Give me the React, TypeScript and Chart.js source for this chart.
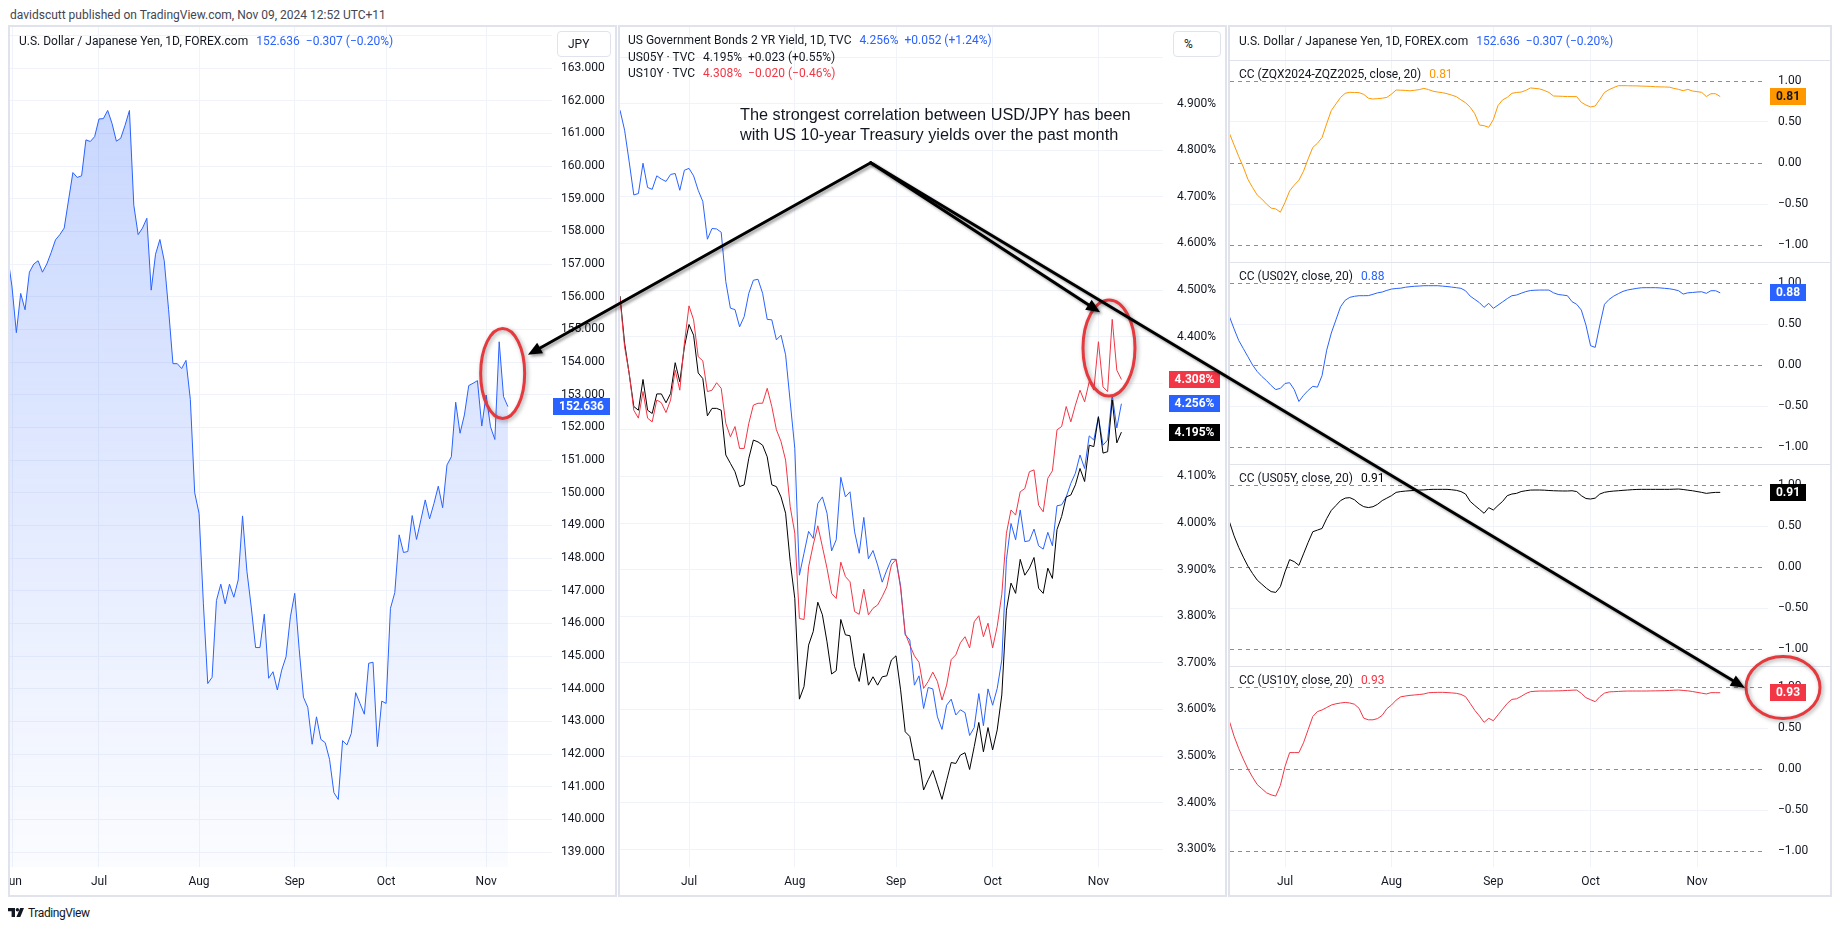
import React, { useEffect, useRef } from 'react';
import { Chart, registerables } from 'chart.js';

Chart.register(...registerables);

/* ---------------- data (bar index 0 = Mon 3 Jun 2024, daily bars) ---------------- */
const MONTH_LABELS = ['Jun', 'Jul', 'Aug', 'Sep', 'Oct', 'Nov'];
const MONTH_START_BAR = [0, 20, 43, 65, 86, 109];

const USDJPY_FIRST_BAR = -1;
const USDJPY = [
  157.26, 156.3, 154.9, 156.1, 155.6, 156.75, 157.0, 157.1, 156.75, 157.0,
  157.35, 157.74, 157.9, 158.1, 158.96, 159.8, 159.65, 159.7, 160.8, 160.75,
  160.9, 161.44, 161.45, 161.7, 161.3, 160.76, 160.85, 161.25, 161.7, 158.8,
  157.9, 158.1, 158.4, 156.2, 157.3, 157.75, 157.1, 155.6, 153.95, 153.95,
  153.8, 154.05, 152.85, 150.0, 149.37, 146.6, 144.16, 144.35, 146.7, 147.2,
  146.6, 147.2, 146.8, 147.33, 149.29, 147.6, 146.5, 145.26, 145.26, 146.28,
  144.32, 144.52, 143.96, 144.57, 144.98, 146.2, 146.92, 145.24, 143.74, 143.43,
  142.3, 143.14, 142.45, 142.35, 141.84, 140.82, 140.61, 142.41, 142.28, 142.63,
  143.88, 143.55, 143.22, 144.78, 144.81, 142.23, 143.62, 143.55, 146.46, 146.94,
  148.71, 148.17, 148.2, 149.3, 148.57, 149.17, 149.78, 149.2, 149.67, 150.2,
  149.54, 150.85, 151.1, 152.77, 151.82, 152.38, 153.28, 153.35, 153.43, 152.04,
  152.99, 152.02, 151.63, 154.62, 152.943, 152.636,
];

const YIELD_FIRST_BAR = 5;
const US02Y = [
  4.886, 4.843, 4.775, 4.704, 4.707, 4.772, 4.72, 4.716, 4.745, 4.738,
  4.733, 4.748, 4.75, 4.714, 4.757, 4.761, 4.745, 4.714, 4.69, 4.609,
  4.632, 4.631, 4.624, 4.518, 4.461, 4.458, 4.421, 4.443, 4.493, 4.521,
  4.523, 4.493, 4.437, 4.436, 4.393, 4.403, 4.361, 4.26, 4.16, 3.888,
  3.935, 3.982, 3.967, 4.042, 4.056, 4.021, 3.94, 3.964, 4.098, 4.056,
  4.067, 3.981, 3.935, 4.012, 3.923, 3.941, 3.91, 3.873, 3.899, 3.922,
  3.922, 3.865, 3.76, 3.749, 3.652, 3.672, 3.602, 3.647, 3.644, 3.584,
  3.557, 3.609, 3.622, 3.588, 3.599, 3.593, 3.544, 3.561, 3.634, 3.565,
  3.644, 3.609, 3.645, 3.706, 3.921, 3.999, 3.964, 4.028, 3.96, 3.962,
  3.987, 3.951, 3.944, 3.98, 3.951, 4.037, 4.039, 4.056, 4.085, 4.107,
  4.146, 4.117, 4.187, 4.178, 4.228, 4.167, 4.178, 4.275, 4.204, 4.256,
];
const US05Y = [
  4.487, 4.386, 4.32, 4.25, 4.242, 4.308, 4.242, 4.235, 4.277, 4.277,
  4.258, 4.278, 4.344, 4.303, 4.378, 4.426, 4.403, 4.322, 4.31, 4.23,
  4.246, 4.246, 4.242, 4.146, 4.128, 4.11, 4.078, 4.082, 4.139, 4.178,
  4.174, 4.167, 4.142, 4.082, 4.078, 4.056, 4.021, 3.917, 3.838, 3.622,
  3.649, 3.738, 3.767, 3.83, 3.803, 3.745, 3.676, 3.683, 3.793, 3.76,
  3.758, 3.692, 3.66, 3.72, 3.652, 3.67, 3.652, 3.67, 3.672, 3.706,
  3.715, 3.642, 3.552, 3.542, 3.492, 3.492, 3.427, 3.449, 3.469, 3.438,
  3.407, 3.447, 3.486, 3.484, 3.502, 3.507, 3.471, 3.52, 3.572, 3.509,
  3.561, 3.513, 3.556, 3.631, 3.813, 3.871, 3.849, 3.922, 3.888, 3.903,
  3.926, 3.86, 3.849, 3.903, 3.881, 3.986, 4.014, 4.056, 4.06, 4.082,
  4.117, 4.089, 4.167, 4.164, 4.228, 4.15, 4.153, 4.264, 4.172, 4.195,
];
const US10Y = [
  4.482, 4.378, 4.321, 4.242, 4.225, 4.282, 4.225, 4.217, 4.264, 4.258,
  4.237, 4.264, 4.328, 4.285, 4.386, 4.466, 4.436, 4.357, 4.348, 4.282,
  4.285, 4.301, 4.289, 4.214, 4.185, 4.207, 4.16, 4.16, 4.214, 4.253,
  4.257, 4.257, 4.289, 4.25, 4.2, 4.175, 4.135, 4.035, 3.978, 3.795,
  3.793, 3.906, 3.953, 3.994, 3.949, 3.903, 3.849, 3.838, 3.916, 3.885,
  3.874, 3.81, 3.804, 3.858, 3.803, 3.817, 3.824, 3.842, 3.863, 3.91,
  3.922, 3.86, 3.763, 3.738, 3.715, 3.701, 3.645, 3.66, 3.68, 3.66,
  3.62, 3.652, 3.707, 3.717, 3.743, 3.756, 3.732, 3.788, 3.801, 3.756,
  3.785, 3.732, 3.778, 3.847, 3.978, 4.028, 4.017, 4.067, 4.074, 4.11,
  4.114, 4.038, 4.024, 4.096, 4.112, 4.2, 4.207, 4.25, 4.217, 4.253,
  4.285, 4.26, 4.303, 4.285, 4.389, 4.292, 4.282, 4.437, 4.328, 4.308,
];

const CC_FIRST_BAR = 8;
const CC_ZQ = [
  0.36, 0.22, 0.08, -0.05, -0.2, -0.3, -0.39, -0.44, -0.5, -0.55,
  -0.56, -0.6, -0.48, -0.34, -0.27, -0.21, -0.1, 0.05, 0.19, 0.24,
  0.31, 0.48, 0.64, 0.72, 0.8, 0.85, 0.862, 0.86, 0.858, 0.837,
  0.79, 0.78, 0.785, 0.79, 0.8, 0.84, 0.89, 0.888, 0.885, 0.88,
  0.887, 0.895, 0.91, 0.895, 0.875, 0.865, 0.858, 0.845, 0.828, 0.809,
  0.77, 0.735, 0.68, 0.6, 0.463, 0.455, 0.435, 0.53, 0.7, 0.77,
  0.8, 0.85, 0.86, 0.865, 0.885, 0.915, 0.91, 0.903, 0.885, 0.86,
  0.817, 0.815, 0.813, 0.81, 0.81, 0.809, 0.74, 0.707, 0.683, 0.695,
  0.776, 0.86, 0.895, 0.92, 0.943, 0.943, 0.942, 0.941, 0.94, 0.938,
  0.936, 0.934, 0.93, 0.928, 0.927, 0.925, 0.91, 0.898, 0.882, 0.898,
  0.878, 0.87, 0.862, 0.81, 0.845, 0.845, 0.81,
];
const CC_US02Y = [
  0.59, 0.44, 0.3, 0.2, 0.1, 0.0, -0.08, -0.14, -0.19, -0.25,
  -0.3, -0.285, -0.225, -0.216, -0.3, -0.445, -0.37, -0.31, -0.26, -0.27,
  -0.13, 0.18, 0.39, 0.55, 0.71, 0.79, 0.825, 0.838, 0.845, 0.845,
  0.846, 0.862, 0.88, 0.89, 0.91, 0.926, 0.933, 0.937, 0.948, 0.955,
  0.96, 0.963, 0.967, 0.967, 0.967, 0.967, 0.962, 0.957, 0.95, 0.943,
  0.935, 0.905, 0.84, 0.8, 0.76, 0.703, 0.752, 0.691, 0.73, 0.77,
  0.81, 0.845, 0.853, 0.875, 0.895, 0.908, 0.912, 0.914, 0.914, 0.914,
  0.88, 0.86, 0.853, 0.845, 0.772, 0.74, 0.67, 0.487, 0.235, 0.215,
  0.487, 0.74, 0.8, 0.84, 0.87, 0.898, 0.915, 0.925, 0.935, 0.942,
  0.943, 0.943, 0.943, 0.94, 0.935, 0.93, 0.92, 0.906, 0.865, 0.88,
  0.884, 0.89, 0.893, 0.874, 0.906, 0.906, 0.88,
];
const CC_US05Y = [
  0.55, 0.38, 0.24, 0.12, 0.01, -0.08, -0.16, -0.21, -0.26, -0.3,
  -0.31, -0.24, -0.06, 0.09, 0.065, 0.02, 0.16, 0.3, 0.43, 0.45,
  0.47, 0.59, 0.69, 0.75, 0.81, 0.84, 0.846, 0.82, 0.77, 0.736,
  0.725, 0.735, 0.765, 0.81, 0.84, 0.87, 0.91, 0.92, 0.926, 0.93,
  0.935, 0.938, 0.94, 0.945, 0.947, 0.947, 0.947, 0.947, 0.942, 0.935,
  0.92, 0.89, 0.8, 0.75, 0.703, 0.655, 0.724, 0.695, 0.75, 0.8,
  0.87, 0.89, 0.898, 0.92, 0.93, 0.938, 0.939, 0.939, 0.937, 0.933,
  0.93, 0.928, 0.927, 0.927, 0.93, 0.92, 0.87, 0.835, 0.829, 0.84,
  0.89, 0.911, 0.92, 0.926, 0.93, 0.935, 0.939, 0.943, 0.946, 0.947,
  0.947, 0.947, 0.947, 0.947, 0.947, 0.947, 0.949, 0.951, 0.945, 0.937,
  0.93, 0.92, 0.91, 0.898, 0.905, 0.91, 0.91,
];
const CC_US10Y = [
  0.58, 0.4, 0.25, 0.12, 0.0, -0.1, -0.19, -0.24, -0.29, -0.315,
  -0.33, -0.2, 0.03, 0.2, 0.2, 0.2, 0.32, 0.48, 0.64, 0.7,
  0.72, 0.75, 0.78, 0.795, 0.805, 0.812, 0.805, 0.79, 0.74, 0.62,
  0.6, 0.6, 0.615, 0.655, 0.735, 0.78, 0.84, 0.88, 0.89, 0.898,
  0.903, 0.908, 0.915, 0.93, 0.933, 0.935, 0.935, 0.932, 0.928, 0.923,
  0.91, 0.882, 0.8, 0.715, 0.646, 0.569, 0.618, 0.589, 0.66, 0.73,
  0.8, 0.849, 0.856, 0.885, 0.92, 0.943, 0.948, 0.951, 0.951, 0.951,
  0.952, 0.953, 0.955, 0.958, 0.961, 0.963, 0.923, 0.87, 0.845, 0.821,
  0.882, 0.925, 0.94, 0.943, 0.946, 0.949, 0.951, 0.951, 0.951, 0.951,
  0.951, 0.952, 0.953, 0.954, 0.955, 0.958, 0.961, 0.963, 0.958, 0.953,
  0.945, 0.935, 0.925, 0.915, 0.931, 0.931, 0.93,
];

const JPY_TICKS = [139, 140, 141, 142, 143, 144, 145, 146, 147, 148, 149, 150, 151, 152, 153, 154, 155, 156, 157, 158, 159, 160, 161, 162, 163, 164];
const YIELD_TICKS = [3.3, 3.4, 3.5, 3.6, 3.7, 3.8, 3.9, 4.0, 4.1, 4.2, 4.3, 4.4, 4.5, 4.6, 4.7, 4.8, 4.9, 5.0];
const CC_TICKS = [-1, -0.5, 0, 0.5, 1];
const CC_DASHED = [-1, 0, 1];

/* ---------------- styles / layout ---------------- */
const COLORS = {
  blue: '#2962ff', red: '#f23645', black: '#000000', orange: '#ff9800',
  text: '#131722', grid: '#f0f3fa', border: '#e0e3eb', dashed: '#8b8e97',
};
const FONT = 'Roboto, "Noto Sans", sans-serif';
const MINUS = '\u2212';

const LEFT_RECT = { left: 10, top: 27, width: 605, height: 868 };
const MID_RECT = { left: 620, top: 27, width: 605, height: 868 };
const CC_RECTS = [
  { left: 1230, top: 27, width: 600, height: 235 },
  { left: 1230, top: 263, width: 600, height: 201 },
  { left: 1230, top: 465, width: 600, height: 201 },
  { left: 1230, top: 667, width: 600, height: 228 },
];
const PANEL_BOXES = [
  { left: 8, top: 25, width: 609, height: 872 },
  { left: 618, top: 25, width: 609, height: 872 },
  { left: 1228, top: 25, width: 604, height: 872 },
];
const CC_SEPARATORS = [60, 262, 464, 666];

/* annotation anchors in each pane's data space */
const APEX = { pane: 'mid', x: 59.5, y: 4.773 };
const ARROW_TIPS = [
  { pane: 'left', x: 118.6, y: 154.22 },
  { pane: 'mid', x: 109.37, y: 4.452 },
  { pane: 'cc3', x: 119.3, y: 0.991 },
];
const RINGS = [
  { pane: 'left', x: 112.8, y: 153.65, rx: 22, ry: 45 },
  { pane: 'mid', x: 111.3, y: 4.3755, rx: 26, ry: 48 },
  { pane: 'cc3', x: 127.56, y: 0.994, rx: 37, ry: 31 },
];

/* ---------------- helpers ---------------- */
const points = (values: number[], firstBar: number) => values.map((y, i) => ({ x: firstBar + i, y }));
const lastOf = (a: number[]) => a[a.length - 1];
const prevOf = (a: number[]) => a[a.length - 2];
const signed = (v: number, d: number) => (v < 0 ? MINUS : '+') + Math.abs(v).toFixed(d);
const changeText = (a: number[], d: number) => {
  const c = lastOf(a) - prevOf(a);
  return `${signed(c, d)} (${signed((c / prevOf(a)) * 100, 2)}%)`;
};
const ccLabel = (v: number) => (v < 0 ? MINUS : '') + Math.abs(v).toFixed(2);

const areaFill = (context: any) => {
  const { chart } = context;
  const { ctx, chartArea } = chart;
  if (!chartArea) return 'rgba(41,98,255,0.15)';
  const g = ctx.createLinearGradient(0, chartArea.top, 0, chartArea.bottom);
  g.addColorStop(0, 'rgba(41,98,255,0.28)');
  g.addColorStop(1, 'rgba(41,98,255,0.02)');
  return g;
};

const lineDs = (values: number[], first: number, color: string, order = 0) => ({
  data: points(values, first), borderColor: color, borderWidth: 1, pointRadius: 0, fill: false, tension: 0, order,
});

function decorPlugin(spec: any) {
  return {
    id: 'decor',
    beforeDatasetsDraw(chart: any) {
      const { ctx, chartArea, scales } = chart;
      ctx.save();
      ctx.strokeStyle = COLORS.dashed;
      ctx.lineWidth = 1;
      ctx.setLineDash([4, 4]);
      for (const v of spec.dashed) {
        const y = Math.round(scales.y.getPixelForValue(v)) + 0.5;
        ctx.beginPath();
        ctx.moveTo(chartArea.left, y);
        ctx.lineTo(chartArea.right - 5, y);
        ctx.stroke();
      }
      ctx.restore();
    },
    afterDraw(chart: any) {
      const { ctx, chartArea, scales } = chart;
      ctx.save();
      ctx.font = `12px ${FONT}`;
      ctx.fillStyle = COLORS.text;
      ctx.textBaseline = 'middle';
      ctx.textAlign = 'left';
      for (const v of spec.ticks) {
        const t = spec.label(v);
        if (!t) continue;
        ctx.fillText(t, chartArea.right + spec.labelGap, scales.y.getPixelForValue(v));
      }
      if (spec.monthLabels) {
        ctx.textAlign = 'center';
        MONTH_START_BAR.forEach((b, i) => {
          ctx.fillText(MONTH_LABELS[i], scales.x.getPixelForValue(b), chartArea.bottom + 15);
        });
      }
      ctx.font = `bold 12px ${FONT}`;
      ctx.textAlign = 'center';
      const [x0, x1] = spec.badgeX;
      for (const b of spec.badges) {
        const y = scales.y.getPixelForValue(b.value);
        ctx.fillStyle = b.bg;
        ctx.fillRect(x0, Math.round(y - 8.5), x1 - x0, 17);
        ctx.fillStyle = b.fg;
        ctx.fillText(b.text, (x0 + x1) / 2, y + 0.5);
      }
      ctx.restore();
    },
  };
}

function buildChart(canvas: HTMLCanvasElement, spec: any) {
  return new Chart(canvas, {
    type: 'line',
    data: { datasets: spec.datasets },
    options: {
      responsive: false,
      maintainAspectRatio: false,
      animation: false,
      devicePixelRatio: 1,
      events: [],
      layout: { padding: { left: 0, top: 0, right: 0, bottom: spec.bottomPad } },
      plugins: { legend: { display: false }, tooltip: { enabled: false } },
      scales: {
        x: {
          type: 'linear', min: spec.xMin, max: spec.xMax,
          afterBuildTicks: (s: any) => { s.ticks = MONTH_START_BAR.map((value) => ({ value })); },
          ticks: { display: false },
          grid: { color: COLORS.grid, drawTicks: false, lineWidth: 1 },
          border: { display: false },
        },
        y: {
          type: 'linear', position: 'right', min: spec.yMin, max: spec.yMax,
          afterBuildTicks: (s: any) => { s.ticks = spec.ticks.map((value: number) => ({ value })); },
          afterFit: (s: any) => { s.width = spec.axisWidth; },
          ticks: { display: false },
          grid: { color: (c: any) => spec.gridColor(c.tick ? c.tick.value : NaN), drawTicks: false, lineWidth: 1 },
          border: { display: false },
        },
      },
    } as any,
    plugins: [decorPlugin(spec)],
  } as any);
}

const LEFT_SPEC = {
  xMin: -0.46, xMax: 124.14, yMin: 138.543, yMax: 164.255,
  axisWidth: 63, bottomPad: 28, labelGap: 9,
  ticks: JPY_TICKS, label: (v: number) => (v > 163.5 ? '' : v.toFixed(3)),
  gridColor: () => COLORS.grid, dashed: [], monthLabels: true,
  badgeX: [543, 600],
  badges: [{ value: lastOf(USDJPY), text: lastOf(USDJPY).toFixed(3), bg: COLORS.blue, fg: '#ffffff' }],
  datasets: [{
    data: points(USDJPY, USDJPY_FIRST_BAR), borderColor: COLORS.blue, borderWidth: 1, pointRadius: 0,
    fill: 'start', backgroundColor: areaFill, tension: 0,
  }],
};

const MID_SPEC = {
  xMin: 5.0, xMax: 123.04, yMin: 3.2618, yMax: 5.0644,
  axisWidth: 62, bottomPad: 28, labelGap: 14,
  ticks: YIELD_TICKS, label: (v: number) => (v > 4.95 ? '' : `${v.toFixed(3)}%`),
  gridColor: () => COLORS.grid, dashed: [], monthLabels: true,
  badgeX: [549, 600],
  badges: [
    { value: lastOf(US10Y), text: `${lastOf(US10Y).toFixed(3)}%`, bg: COLORS.red, fg: '#ffffff' },
    { value: lastOf(US02Y), text: `${lastOf(US02Y).toFixed(3)}%`, bg: COLORS.blue, fg: '#ffffff' },
    { value: lastOf(US05Y), text: `${lastOf(US05Y).toFixed(3)}%`, bg: COLORS.black, fg: '#ffffff' },
  ],
  datasets: [
    lineDs(US10Y, YIELD_FIRST_BAR, COLORS.red, 1),
    lineDs(US05Y, YIELD_FIRST_BAR, COLORS.black, 2),
    lineDs(US02Y, YIELD_FIRST_BAR, COLORS.blue, 3),
  ],
};

const CC_SERIES = [
  { values: CC_ZQ, color: COLORS.orange, fg: COLORS.text, title: 'CC (ZQX2024-ZQZ2025, close, 20)' },
  { values: CC_US02Y, color: COLORS.blue, fg: '#ffffff', title: 'CC (US02Y, close, 20)' },
  { values: CC_US05Y, color: COLORS.black, fg: '#ffffff', title: 'CC (US05Y, close, 20)' },
  { values: CC_US10Y, color: COLORS.red, fg: '#ffffff', title: 'CC (US10Y, close, 20)' },
];
const CC_Y_RANGES = [[-1.2073, 1.6585], [-1.2073, 1.2439], [-1.2073, 1.2439], [-1.195, 1.2439]];

const CC_SPECS = CC_SERIES.map((s, i) => ({
  xMin: 8.12, xMax: 124.32, yMin: CC_Y_RANGES[i][0], yMax: CC_Y_RANGES[i][1],
  axisWidth: 62, bottomPad: i === 3 ? 28 : 0, labelGap: 10,
  ticks: CC_TICKS, label: ccLabel,
  gridColor: (v: number) => (Math.abs(Math.abs(v) - 0.5) < 1e-9 ? COLORS.grid : 'rgba(0,0,0,0)'),
  dashed: CC_DASHED, monthLabels: i === 3,
  badgeX: [540, 576],
  badges: [{ value: lastOf(s.values), text: lastOf(s.values).toFixed(2), bg: s.color, fg: s.fg }],
  datasets: [lineDs(s.values, CC_FIRST_BAR, s.color)],
}));

function drawAnnotations(canvas: HTMLCanvasElement, panes: any) {
  const ctx = canvas.getContext('2d');
  if (!ctx) return;
  ctx.clearRect(0, 0, canvas.width, canvas.height);
  const at = (a: any) => {
    const { chart, rect } = panes[a.pane];
    return { x: rect.left + chart.scales.x.getPixelForValue(a.x), y: rect.top + chart.scales.y.getPixelForValue(a.y) };
  };
  // rings
  ctx.save();
  ctx.shadowColor = 'rgba(0,0,0,0.35)';
  ctx.shadowBlur = 4;
  ctx.shadowOffsetX = 1.5;
  ctx.shadowOffsetY = 1.5;
  ctx.strokeStyle = '#e5393e';
  ctx.lineWidth = 3;
  for (const r of RINGS) {
    const p = at(r);
    ctx.beginPath();
    ctx.ellipse(p.x, p.y, r.rx, r.ry, 0, 0, Math.PI * 2);
    ctx.stroke();
  }
  ctx.restore();
  // arrows
  ctx.save();
  ctx.shadowColor = 'rgba(0,0,0,0.4)';
  ctx.shadowBlur = 3;
  ctx.shadowOffsetX = 2;
  ctx.shadowOffsetY = 2;
  ctx.strokeStyle = '#000000';
  ctx.fillStyle = '#000000';
  ctx.lineWidth = 3;
  ctx.lineCap = 'round';
  const from = at(APEX);
  for (const t of ARROW_TIPS) {
    const to = at(t);
    const ang = Math.atan2(to.y - from.y, to.x - from.x);
    const len = 14;
    const half = 6;
    const bx = to.x - len * Math.cos(ang);
    const by = to.y - len * Math.sin(ang);
    ctx.beginPath();
    ctx.moveTo(from.x, from.y);
    ctx.lineTo(bx, by);
    ctx.stroke();
    ctx.beginPath();
    ctx.moveTo(to.x, to.y);
    ctx.lineTo(bx + half * Math.sin(ang), by - half * Math.cos(ang));
    ctx.lineTo(bx - half * Math.sin(ang), by + half * Math.cos(ang));
    ctx.closePath();
    ctx.fill();
  }
  ctx.restore();
}

/* ---------------- small UI pieces ---------------- */
const abs = (left: number, top: number, extra: any = {}) => ({ position: 'absolute' as const, left, top, ...extra });

function LegendLine({ left, top, title, parts, size = 12 }: any) {
  return (
    <div style={abs(left, top, { height: 18, lineHeight: '18px', font: `${size}px ${FONT}`, color: COLORS.text, whiteSpace: 'nowrap', zIndex: 2 })}>
      <span>{title}</span>
      {parts.map((p: any, i: number) => (
        <span key={i} style={{ color: p.color, marginLeft: i === 0 ? 8 : 6 }}>{p.text}</span>
      ))}
    </div>
  );
}

function ScaleButton({ left, width, label }: any) {
  return (
    <div style={abs(left, 31, {
      width, height: 26, boxSizing: 'border-box', border: `1px solid ${COLORS.border}`, borderRadius: 4,
      background: '#ffffff', font: `12px ${FONT}`, color: COLORS.text, lineHeight: '24px', paddingLeft: 10, zIndex: 2,
    })}>{label}</div>
  );
}

export default function App() {
  const leftRef = useRef<HTMLCanvasElement | null>(null);
  const midRef = useRef<HTMLCanvasElement | null>(null);
  const cc0 = useRef<HTMLCanvasElement | null>(null);
  const cc1 = useRef<HTMLCanvasElement | null>(null);
  const cc2 = useRef<HTMLCanvasElement | null>(null);
  const cc3 = useRef<HTMLCanvasElement | null>(null);
  const overlayRef = useRef<HTMLCanvasElement | null>(null);
  const ccRefs = [cc0, cc1, cc2, cc3];

  useEffect(() => {
    const left = buildChart(leftRef.current as HTMLCanvasElement, LEFT_SPEC);
    const mid = buildChart(midRef.current as HTMLCanvasElement, MID_SPEC);
    const ccs = CC_SPECS.map((s, i) => buildChart(ccRefs[i].current as HTMLCanvasElement, s));
    drawAnnotations(overlayRef.current as HTMLCanvasElement, {
      left: { chart: left, rect: LEFT_RECT },
      mid: { chart: mid, rect: MID_RECT },
      cc3: { chart: ccs[3], rect: CC_RECTS[3] },
    });
    return () => {
      left.destroy();
      mid.destroy();
      ccs.forEach((c) => c.destroy());
    };
  }, []);

  const canvasStyle = (r: any) => abs(r.left, r.top, { width: r.width, height: r.height, zIndex: 1 });

  return (
    <div style={{ position: 'absolute', left: 0, top: 0, width: 1841, height: 931, background: '#ffffff', overflow: 'hidden', fontFamily: FONT }}>
      <div style={abs(10, 6, { font: `12px ${FONT}`, lineHeight: '18px', color: '#434651', whiteSpace: 'nowrap' })}>
        davidscutt published on TradingView.com, Nov 09, 2024 12:52 UTC+11
      </div>

      {PANEL_BOXES.map((b, i) => (
        <div key={i} style={abs(b.left, b.top, { width: b.width, height: b.height, boxSizing: 'border-box', border: `2px solid ${COLORS.border}` })} />
      ))}

      <canvas ref={leftRef} width={LEFT_RECT.width} height={LEFT_RECT.height} style={canvasStyle(LEFT_RECT)} />
      <canvas ref={midRef} width={MID_RECT.width} height={MID_RECT.height} style={canvasStyle(MID_RECT)} />
      {CC_RECTS.map((r, i) => (
        <canvas key={i} ref={ccRefs[i]} width={r.width} height={r.height} style={canvasStyle(r)} />
      ))}
      {CC_SEPARATORS.map((y, i) => (
        <div key={i} style={abs(1230, y, { width: 600, height: 1, background: COLORS.border, zIndex: 2 })} />
      ))}

      <LegendLine left={19} top={34} title="U.S. Dollar / Japanese Yen, 1D, FOREX.com"
        parts={[{ text: lastOf(USDJPY).toFixed(3), color: COLORS.blue }, { text: changeText(USDJPY, 3), color: COLORS.blue }]} />
      <ScaleButton left={557} width={54} label="JPY" />

      <LegendLine left={628} top={33} title="US Government Bonds 2 YR Yield, 1D, TVC"
        parts={[{ text: `${lastOf(US02Y).toFixed(3)}%`, color: COLORS.blue }, { text: changeText(US02Y, 3), color: COLORS.blue }]} />
      <LegendLine left={628} top={50} title={'US05Y \u00b7 TVC'}
        parts={[{ text: `${lastOf(US05Y).toFixed(3)}%`, color: COLORS.text }, { text: changeText(US05Y, 3), color: COLORS.text }]} />
      <LegendLine left={628} top={66} title={'US10Y \u00b7 TVC'}
        parts={[{ text: `${lastOf(US10Y).toFixed(3)}%`, color: COLORS.red }, { text: changeText(US10Y, 3), color: COLORS.red }]} />
      <ScaleButton left={1173} width={48} label="%" />

      <LegendLine left={1239} top={34} title="U.S. Dollar / Japanese Yen, 1D, FOREX.com"
        parts={[{ text: lastOf(USDJPY).toFixed(3), color: COLORS.blue }, { text: changeText(USDJPY, 3), color: COLORS.blue }]} />
      {CC_SERIES.map((s, i) => (
        <LegendLine key={i} left={1239} top={CC_SEPARATORS[i] + 7} size={12} title={s.title}
          parts={[{ text: lastOf(s.values).toFixed(2), color: s.color }]} />
      ))}

      <div style={abs(740, 104, { font: '16.3px "Liberation Sans", Arial, sans-serif', lineHeight: '20px', color: COLORS.text, whiteSpace: 'nowrap', zIndex: 2 })}>
        <div>The strongest correlation between USD/JPY has been</div>
        <div>with US 10-year Treasury yields over the past month</div>
      </div>

      <svg style={abs(8, 908)} width={16} height={9} viewBox="0 0 16 9">
        <path d="M0 0H7V9H3.6V3.2H0Z" fill={COLORS.text} />
        <circle cx="9.4" cy="1.7" r="1.7" fill={COLORS.text} />
        <path d="M12.2 0H16L12.3 9H8.4Z" fill={COLORS.text} />
      </svg>
      <div style={abs(28, 905, { font: `12px ${FONT}`, lineHeight: '16px', color: COLORS.text, letterSpacing: '-0.4px' })}>TradingView</div>

      <canvas ref={overlayRef} width={1841} height={931} style={abs(0, 0, { width: 1841, height: 931, zIndex: 3, pointerEvents: 'none' })} />
    </div>
  );
}
